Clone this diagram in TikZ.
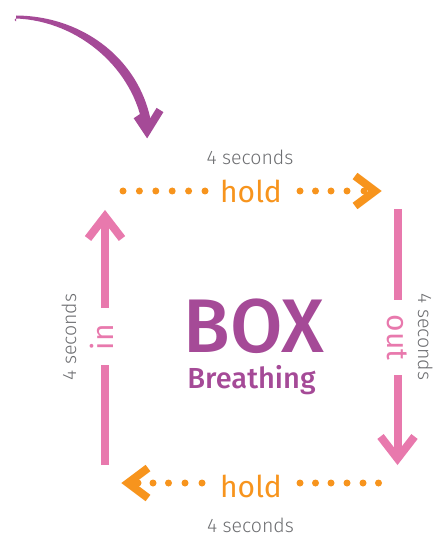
\documentclass[tikz,border=0pt]{standalone}
\usepackage{fontspec}
\setmainfont{Fira Sans}
\newfontfamily\firamedium{Fira Sans}[UprightFont=* Medium]
\newfontfamily\firalight{Fira Sans}[UprightFont=* Light]
\usetikzlibrary{calc}
\definecolor{boxpurple}{HTML}{A54A97}
\definecolor{breathpink}{HTML}{E879AD}
\definecolor{holdorange}{HTML}{F7941D}
\definecolor{secgray}{HTML}{6D6E71}
\begin{document}
\begin{tikzpicture}[x=1pt, y=-1pt,
  pinkline/.style={draw=breathpink, line width=8pt},
  orangeline/.style={draw=holdorange, line width=8pt},
  secs/.style={text=secgray, inner sep=0pt, anchor=base, font=\firalight\fontsize{19.5}{22}\selectfont},
  word/.style={inner sep=0pt, anchor=base, font=\fontsize{30}{32}\selectfont}]
  \useasboundingbox (0,0) rectangle (444,537);
  % curved start arrow
  \fill[boxpurple] (16,15.5) .. controls (85,16) and (143,62) .. (152,128)
    -- (143,128) .. controls (134,70) and (80,21) .. (16,18.5) arc (270:90:1.5) -- cycle;
  \draw[boxpurple, line width=8pt] (137,116) -- (147,131) -- (160,110);
  % corners of the box
  \coordinate (inlow) at (105,465);
  \coordinate (inmid) at (105,365);
  \coordinate (inhigh) at (105,308);
  \coordinate (intop) at (105,216.5);
  \coordinate (outtop) at (397.5,209);
  \coordinate (outmid) at (397.5,300);
  \coordinate (outhigh) at (397.5,375);
  \coordinate (outlow) at (397.5,458.5);
  % in
  \draw[pinkline] (inlow) -- (inmid);
  \draw[pinkline] (inhigh) -- (intop);
  \draw[pinkline] ($(intop)+(-17,22)$) -- (intop) -- ($(intop)+(17,22)$);
  \node[word, text=breathpink, rotate=90] (in) at (113,337) {in};
  \node[secs, rotate=90] (secleft) at (76,337) {4 seconds};
  % top hold
  \foreach \x in {123,139.4,155.8,172.2,188.6,205,300,315.5,331,347,364}
    \fill[holdorange] (\x,191) circle (3.5);
  \draw[orangeline] (355,176) -- (375,191) -- (355,206);
  \node[word, text=holdorange] (holdtop) at (251,203) {hold};
  \node[secs] (sectop) at (250,165) {4 seconds};
  % out
  \draw[pinkline] (outtop) -- (outmid);
  \draw[pinkline] (outhigh) -- (outlow);
  \draw[pinkline] ($(outlow)+(-17,-22)$) -- (outlow) -- ($(outlow)+(17,-22)$);
  \node[word, text=breathpink, rotate=-90] (out) at (387,337.5) {out};
  \node[secs, rotate=-90] (secright) at (418,337) {4 seconds};
  % bottom hold
  \foreach \x in {138,153,168.5,185,202,300,315.5,331,347,363,378.5}
    \fill[holdorange] (\x,483) circle (3.5);
  \draw[orangeline] (148,468) -- (128,483) -- (148,498);
  \node[word, text=holdorange] (holdbot) at (251,497) {hold};
  \node[secs] (secbot) at (250.5,532) {4 seconds};
  % title
  \node[inner sep=0pt, anchor=base, text=boxpurple, font=\firamedium\fontsize{76}{78}\selectfont] (box) at (254,352) {BOX};
  \node[inner sep=0pt, anchor=base, text=boxpurple, font=\firamedium\fontsize{29}{30}\selectfont] (breathing) at (251.5,388) {Breathing};
\end{tikzpicture}
\end{document}
